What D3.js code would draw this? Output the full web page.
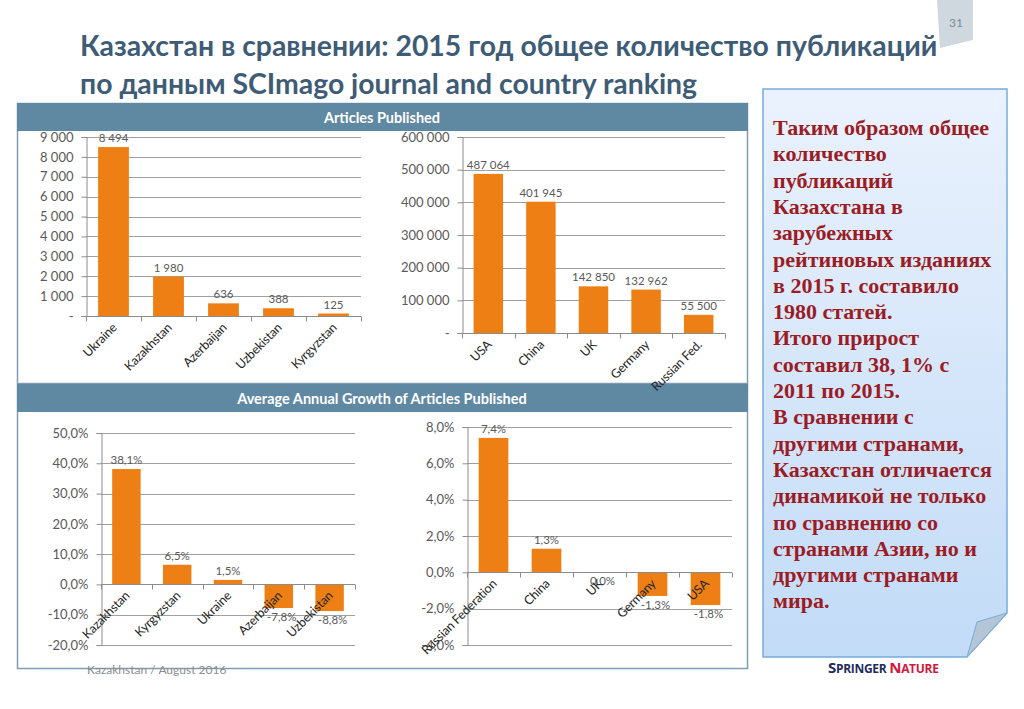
<!DOCTYPE html>
<html>
<head>
<meta charset="utf-8">
<script src="https://cdn.jsdelivr.net/npm/d3@7"></script>
<style>
  body { margin: 0; background: #fff; }
  svg { display: block; font-family: Lato, "Open Sans", sans-serif; }
</style>
</head>
<body>
<div id="chart-area"></div>
<script>
// data
const pubCountriesA = ["Ukraine", "Kazakhstan", "Azerbaijan", "Uzbekistan", "Kyrgyzstan"]
const pubValuesA = [8494, 1980, 636, 388, 125]
const pubTicksA = [0, 1000, 2000, 3000, 4000, 5000, 6000, 7000, 8000, 9000]

const pubCountriesB = ["USA", "China", "UK", "Germany", "Russian Fed."]
const pubValuesB = [487064, 401945, 142850, 132962, 55500]
const pubTicksB = [0, 100000, 200000, 300000, 400000, 500000, 600000]

const growCountriesA = ["Kazakhstan", "Kyrgyzstan", "Ukraine", "Azerbaijan", "Uzbekistan"]
const growValuesA = [38.1, 6.5, 1.5, -7.8, -8.8]
const growTicksA = [-20, -10, 0, 10, 20, 30, 40, 50]

const growCountriesB = ["Russian Federation", "China", "UK", "Germany", "USA"]
const growValuesB = [7.4, 1.3, 0.0, -1.3, -1.8]
const growTicksB = [-4, -2, 0, 2, 4, 6, 8]

const titleLines = [
	"Казахстан в сравнении: 2015 год общее количество публикаций",
	"по данным SCImago journal and country ranking"
]
const noteLines = [
	"Таким образом общее", "количество", "публикаций", "Казахстана в",
	"зарубежных", "рейтиновых изданиях", "в 2015 г. составило", "1980 статей.",
	"Итого прирост", "составил 38, 1% с", "2011 по 2015.", "В сравнении с",
	"другими странами,", "Казахстан отличается", "динамикой не только",
	"по сравнению со", "странами Азии, но и", "другими странами", "мира."
]

const W = 1024
const H = 709
const ORANGE = "#ee7f14"
const GRID = "#a0a0a0"

const svg = d3.select("#chart-area").append("svg")
	.attr("width", W)
	.attr("height", H)

// page tab with number
svg.append("path")
	.attr("d", "M937,0 L973,0 L973,40 L940,48 Z")
	.attr("fill", "#cfd8de")
svg.append("text")
	.attr("x", 956).attr("y", 27)
	.attr("text-anchor", "middle")
	.attr("font-size", "12px")
	.attr("fill", "#7b8b98")
	.text("31")

// title
svg.selectAll(".title")
	.data(titleLines)
	.enter().append("text")
	.attr("class", "title")
	.attr("x", 80)
	.attr("y", (d, i) => 56 + i * 38)
	.attr("font-size", "28.4px")
	.attr("font-weight", "bold")
	.attr("fill", "#3e5c76")
	.text(d => d)

// formats (hyphen instead of unicode minus, space as thousands sep)
const nf = d3.format(",.0f")
function fmtCount(v) {
	return v === 0 ? "-" : nf(v).replace(/,/g, " ")
}
function fmtPct(v) {
	return d3.format(".1f")(v).replace(".", ",").replace("−", "-") + "%"
}

function panel(y0, y1, title) {
	svg.append("rect")
		.attr("x", 17.5).attr("y", y0 + 0.5)
		.attr("width", 730).attr("height", y1 - y0)
		.attr("fill", "#fff")
		.attr("stroke", "#7f9db5")
		.attr("stroke-width", 1.5)
	svg.append("rect")
		.attr("x", 17).attr("y", y0)
		.attr("width", 731).attr("height", 28)
		.attr("fill", "#5f88a3")
	svg.append("text")
		.attr("x", 382).attr("y", y0 + 19.5)
		.attr("text-anchor", "middle")
		.attr("font-size", "14.5px")
		.attr("font-weight", "bold")
		.attr("fill", "#fff")
		.text(title)
}
panel(103, 383, "Articles Published")
panel(384, 668, "Average Annual Growth of Articles Published")

function barChart(cfg) {
	const g = svg.append("g")

	const x = d3.scaleBand()
		.domain(cfg.cats)
		.range([cfg.left, cfg.right])
		.paddingInner(0.44)
		.paddingOuter(0.22)

	const y = d3.scaleLinear()
		.domain(d3.extent(cfg.ticks))
		.range([cfg.bottom, cfg.top])

	// grid
	g.selectAll(".grid")
		.data(cfg.ticks)
		.enter().append("line")
		.attr("x1", cfg.left).attr("x2", cfg.right)
		.attr("y1", d => Math.round(y(d)) + 0.5)
		.attr("y2", d => Math.round(y(d)) + 0.5)
		.attr("stroke", GRID)
		.attr("stroke-width", 1)

	// y axis
	const yAxis = d3.axisLeft(y)
		.tickValues(cfg.ticks)
		.tickSize(5)
		.tickPadding(8)
		.tickFormat(cfg.tickFmt)
	const ya = g.append("g")
		.attr("transform", `translate(${cfg.left + 0.5},0)`)
		.call(yAxis)
	ya.selectAll("path, line").attr("stroke", "#8c8c8c")
	ya.selectAll("text")
		.attr("font-size", "13px")
		.attr("fill", "#595959")
		.attr("font-family", "Lato, sans-serif")

	// bars
	g.selectAll(".bar")
		.data(cfg.vals)
		.enter().append("rect")
		.attr("x", (d, i) => x(cfg.cats[i]))
		.attr("width", x.bandwidth())
		.attr("y", d => y(Math.max(0, d)))
		.attr("height", d => Math.abs(y(d) - y(0)))
		.attr("fill", ORANGE)

	// x axis at zero with ticks at band edges
	const zy = Math.round(y(0)) + 0.5
	g.append("line")
		.attr("x1", cfg.left).attr("x2", cfg.right)
		.attr("y1", zy).attr("y2", zy)
		.attr("stroke", "#8c8c8c")
	const edges = d3.range(cfg.cats.length + 1).map(i => cfg.left + i * (cfg.right - cfg.left) / cfg.cats.length)
	g.selectAll(".xt")
		.data(edges)
		.enter().append("line")
		.attr("x1", d => Math.round(d) + 0.5).attr("x2", d => Math.round(d) + 0.5)
		.attr("y1", zy).attr("y2", zy + 5)
		.attr("stroke", "#8c8c8c")

	// value labels
	g.selectAll(".val")
		.data(cfg.vals)
		.enter().append("text")
		.attr("x", (d, i) => x(cfg.cats[i]) + x.bandwidth() / 2 + (d > 0 ? 0 : 3))
		.attr("y", d => d > 0 ? y(d) - 5 : y(d) + 13)
		.attr("text-anchor", "middle")
		.attr("font-size", "11.5px")
		.attr("fill", "#595959")
		.text(cfg.valFmt)

	// category labels
	g.selectAll(".cat")
		.data(cfg.cats)
		.enter().append("text")
		.attr("transform", d => `translate(${x(d) + x.bandwidth() / 2 + 4},${zy + 12}) rotate(-45)`)
		.attr("text-anchor", "end")
		.attr("font-size", "12.5px")
		.attr("fill", "#262626")
		.attr("letter-spacing", "-0.2px")
		.text(d => d)
}

barChart({
	cats: pubCountriesA, vals: pubValuesA, ticks: pubTicksA,
	left: 86, right: 361, top: 137, bottom: 316,
	tickFmt: fmtCount, valFmt: fmtCount
})
barChart({
	cats: pubCountriesB, vals: pubValuesB, ticks: pubTicksB,
	left: 462, right: 725, top: 137, bottom: 333,
	tickFmt: fmtCount, valFmt: fmtCount
})
barChart({
	cats: growCountriesA, vals: growValuesA, ticks: growTicksA,
	left: 101, right: 355, top: 433, bottom: 645,
	tickFmt: fmtPct, valFmt: fmtPct
})
barChart({
	cats: growCountriesB, vals: growValuesB, ticks: growTicksB,
	left: 467, right: 732, top: 427, bottom: 645,
	tickFmt: fmtPct, valFmt: fmtPct
})

// note box
const defs = svg.append("defs")
const grad = defs.append("linearGradient")
	.attr("id", "noteGrad")
	.attr("x1", 0).attr("y1", 0).attr("x2", 0).attr("y2", 1)
grad.append("stop").attr("offset", "0%").attr("stop-color", "#eaf2fd")
grad.append("stop").attr("offset", "100%").attr("stop-color", "#c2dbf7")

svg.append("path")
	.attr("d", "M763,89 L1007,89 L1007,613 L967,657 L763,657 Z")
	.attr("fill", "url(#noteGrad)")
	.attr("stroke", "#78acdc")
	.attr("stroke-width", 1.5)
svg.append("path")
	.attr("d", "M967,657 L977,622 L1007,613 Z")
	.attr("fill", "#b4c6d6")
	.attr("stroke", "#78acdc")
	.attr("stroke-width", 1)

svg.selectAll(".note")
	.data(noteLines)
	.enter().append("text")
	.attr("x", 773)
	.attr("y", (d, i) => 135 + i * 26.3)
	.attr("font-family", "'Liberation Serif', 'DejaVu Serif', serif")
	.attr("font-size", "22px")
	.attr("font-weight", "bold")
	.attr("fill", "#9b1c25")
	.text(d => d)

// footer
svg.append("text")
	.attr("x", 87).attr("y", 674)
	.attr("font-size", "12px")
	.attr("fill", "#8c8c8c")
	.text("Kazakhstan / August 2016")

const logo = svg.append("text")
	.attr("x", 828).attr("y", 673)
	.attr("font-family", "'Open Sans', sans-serif")
	.attr("font-weight", "bold")
	.attr("letter-spacing", "-0.3px")
logo.append("tspan").attr("fill", "#1e2d5a").attr("font-size", "15px").text("S")
logo.append("tspan").attr("fill", "#1e2d5a").attr("font-size", "12px").text("PRINGER ")
logo.append("tspan").attr("fill", "#d3163d").attr("font-size", "15px").text("N")
logo.append("tspan").attr("fill", "#d3163d").attr("font-size", "12px").text("ATURE")
</script>
</body>
</html>
